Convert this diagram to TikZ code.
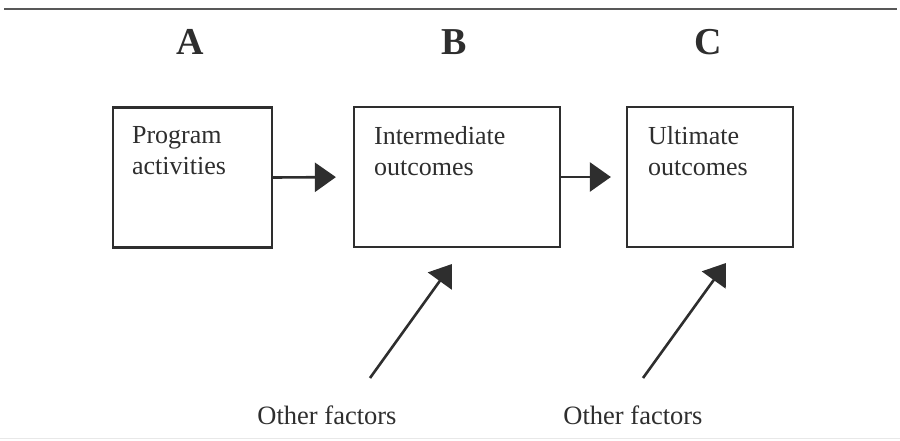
\documentclass[tikz,border=0pt]{standalone}
\usepackage{fontspec}
\setmainfont{Liberation Serif}
\usetikzlibrary{arrows.meta}
\definecolor{ink}{gray}{0.18}
\tikzset{
  stage/.style={draw=ink, line width=2.2pt, rectangle, inner sep=0pt},
  boxtext/.style={anchor=north west, inner sep=0pt, align=left, text=ink,
    font=\fontsize{26pt}{31pt}\selectfont},
  head/.style={anchor=base, inner sep=0pt, text=ink, font=\fontsize{38pt}{40pt}\selectfont\bfseries},
  factor/.style={anchor=base, inner sep=0pt, text=ink, font=\fontsize{26.5pt}{30pt}\selectfont},
  flow/.style={draw=ink, line width=2.6pt, -{Triangle[length=21pt,width=29pt]}},
}
\begin{document}
\begin{tikzpicture}[x=1pt,y=-1pt]
  \useasboundingbox (0,0) rectangle (900,440);
  % rules at top and bottom
  \draw[ink!80, line width=2pt] (4,9) -- (897,9);
  \draw[gray!18, line width=1pt] (0,438) -- (900,438);

  % stage boxes
  \node[stage, minimum width=159pt, minimum height=140pt] (a) at (192.5,177.5) {};
  \node[stage, minimum width=206pt, minimum height=140pt] (b) at (457,177) {};
  \node[stage, minimum width=166pt, minimum height=140pt] (c) at (710,177) {};

  % column letters
  \node[head] (la) at (190,54) {A};
  \node[head] (lb) at (454,54) {B};
  \node[head] (lc) at (708,54) {C};

  % box texts
  \node[boxtext] (ta) at ([shift={(20pt,-20pt)}]a.north west) {Program\\activities};
  \node[boxtext] (tb) at ([shift={(21pt,-20pt)}]b.north west) {Intermediate\\outcomes};
  \node[boxtext] (tc) at ([shift={(22pt,-20pt)}]c.north west) {Ultimate\\outcomes};

  % flow between stages
  \draw[flow, shorten >=17pt] (a.east) -- (b.west);
  \draw[flow, shorten >=15pt] (b.east) -- (c.west);

  % other factors
  \node[factor] (f1) at (327,424) {Other factors};
  \node[factor] (f2) at (633,424) {Other factors};
  \coordinate (s1) at (370,378);
  \coordinate (e1) at (452,264);
  \coordinate (s2) at (643,378);
  \coordinate (e2) at (726,263);
  \draw[flow] (s1) -- (e1);
  \draw[flow] (s2) -- (e2);
\end{tikzpicture}
\end{document}
